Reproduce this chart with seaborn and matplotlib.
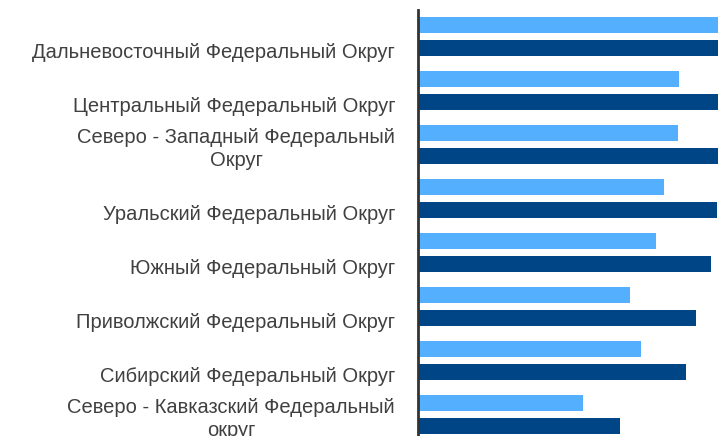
import matplotlib
matplotlib.use("Agg")
import matplotlib.pyplot as plt
import seaborn as sns
import pandas as pd
import numpy as np

categories = [
    "Дальневосточный Федеральный Округ",
    "Центральный Федеральный Округ",
    "Северо - Западный Федеральный\nОкруг",
    "Уральский Федеральный Округ",
    "Южный Федеральный Округ",
    "Приволжский Федеральный Округ",
    "Сибирский Федеральный Округ",
    "Северо - Кавказский Федеральный\nокруг",
]
series_names = ["Серия 1", "Серия 2"]
values_light = [330, 261, 260, 246, 238, 212, 223, 165]
values_dark = [360, 320, 310, 299, 293, 278, 268, 202]

colors = ["#55AFFF", "#004686"]

sns.set_theme(style="white")
plt.rcParams["font.family"] = ["Liberation Sans", "DejaVu Sans"]

df = pd.DataFrame({
    "region": categories * 2,
    "series": [series_names[0]] * len(categories) + [series_names[1]] * len(categories),
    "value": values_light + values_dark,
})

W, H = 718, 436
fig = plt.figure(figsize=(W / 100, H / 100), dpi=100)
cat_px = 54.0
ax_left = 418 / W
ax_width = 300 / W
top_px = 10
ylim_top = -0.49
ylim_bot = 7.5
ax_h_px = (ylim_bot - ylim_top) * cat_px
ax_bottom = (H - top_px - ax_h_px) / H
ax = fig.add_axes([ax_left, ax_bottom, ax_width, ax_h_px / H])

sns.barplot(data=df, y="region", x="value", hue="series", hue_order=series_names,
            order=categories, palette=colors, width=0.85, gap=0.3, orient="h",
            legend=False, ax=ax, linewidth=0, saturation=1)

ax.set_xlim(0, 300)
ax.set_ylim(ylim_bot, ylim_top)
ax.set_xlabel("")
ax.set_ylabel("")
ax.set_xticks([])
pos = np.arange(len(categories)) + 0.47
ax.set_yticks(pos)
ax.set_yticklabels(categories, fontsize=14.5, color="#404040", multialignment="center",
                   linespacing=1.25)
for lbl in ax.get_yticklabels():
    lbl.set_verticalalignment("bottom")
ax.tick_params(axis="y", length=0, pad=16.5)
for s in ["top", "right", "bottom"]:
    ax.spines[s].set_visible(False)
ax.spines["left"].set_color("#333333")
ax.spines["left"].set_linewidth(2)

fig.savefig("out.png", dpi=100)
